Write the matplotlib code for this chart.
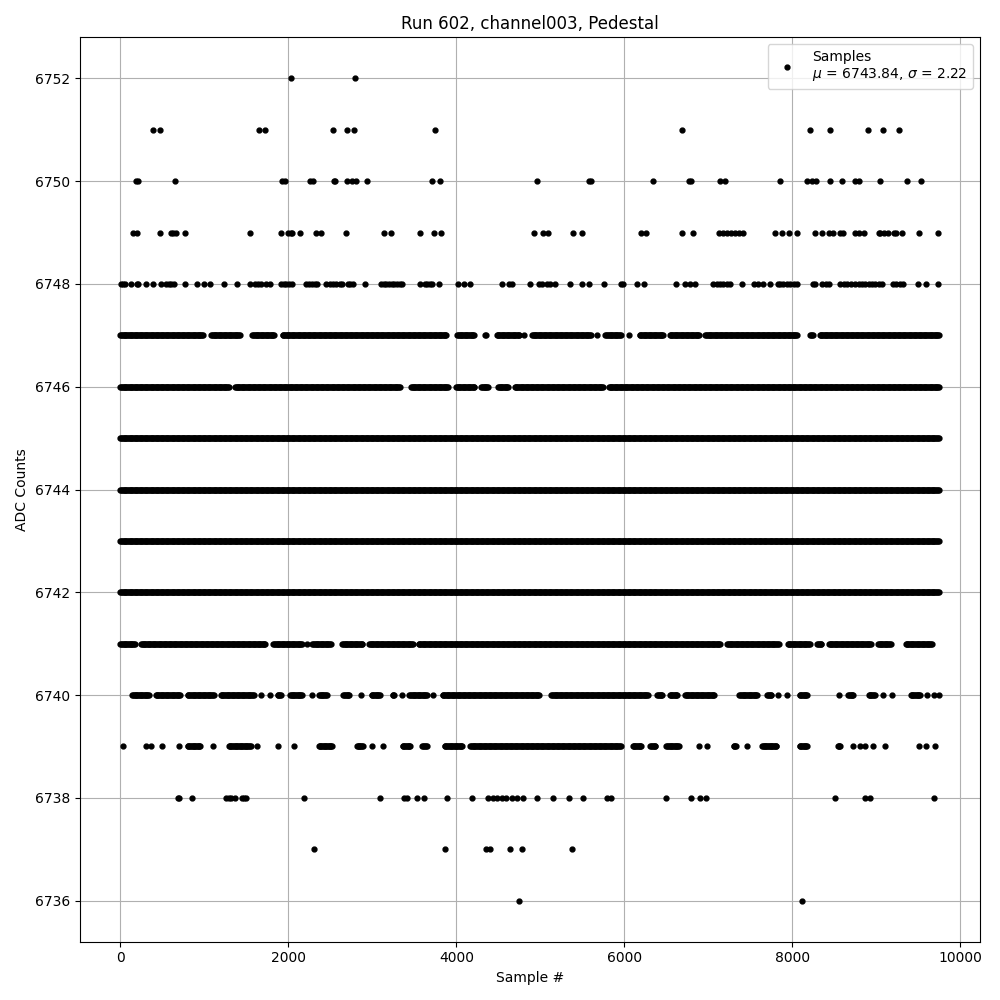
import matplotlib
matplotlib.use("Agg")
import matplotlib.pyplot as plt
import numpy as np

# ADC levels and where the samples sit on each one.
# runs = (first, last) sample index of a continuous stretch, dots = single samples
levels = [6736, 6737, 6738, 6739, 6740, 6741, 6742, 6743, 6744, 6745, 6746,
          6747, 6748, 6749, 6750, 6751, 6752]

dots_6736 = [4748, 8109]
dots_6737 = [2305, 3866, 4351, 4398, 4641, 4776, 5379]
dots_6738 = [688, 700, 850, 1260, 1290, 1320, 1359, 1450, 1475, 1498, 2185, 3091,
             3373, 3413, 3532, 3616, 3890, 4184, 4378, 4437, 4485, 4537, 4589,
             4665, 4724, 4788, 4962, 5153, 5340, 5510, 5789, 5836, 6496, 6794,
             6901, 6973, 8510, 8868, 8927, 9682]
runs_6739 = [(28, 28), (306, 306), (366, 366), (497, 497), (696, 696), (800, 950),
             (1101, 1101), (1290, 1550), (1625, 1625), (1875, 1875), (2066, 2066),
             (2360, 2520), (2815, 2890), (2996, 2996), (3127, 3127), (3360, 3455),
             (3596, 3651), (3860, 4070), (4165, 5955), (6100, 6200), (6310, 6375),
             (6500, 6650), (6893, 6893), (6981, 6981), (7300, 7330), (7457, 7457),
             (7640, 7815), (8085, 8180), (8540, 8570), (8717, 8717), (8800, 8800),
             (8868, 8868), (8959, 8959), (9098, 9098), (9503, 9503), (9595, 9595),
             (9694, 9694)]
runs_6740 = [(140, 340), (420, 710), (800, 1110), (1195, 1590), (1669, 1669),
             (1780, 1780), (1870, 1910), (2020, 2165), (2277, 2277), (2365, 2455),
             (2655, 2730), (2865, 2865), (2990, 3090), (3240, 3265), (3354, 3354),
             (3440, 3650), (3723, 3723), (3835, 4990), (5130, 6280), (6390, 6455),
             (6540, 6635), (6720, 7075), (7370, 7580), (7700, 7750), (7823, 7823),
             (7942, 7942), (8085, 8180), (8558, 8558), (8665, 8730), (8910, 8985),
             (9074, 9074), (9182, 9182), (9410, 9520), (9603, 9603), (9682, 9682),
             (9745, 9745)]
runs_6741 = [(0, 170), (245, 1730), (1820, 2165), (2221, 2221), (2285, 2505),
             (2640, 2880), (2960, 3480), (3550, 7145), (7225, 7835), (7945, 8205),
             (8295, 8345), (8435, 8940), (9020, 9170), (9350, 9665)]
runs_6742 = [(0, 9749)]
runs_6743 = [(0, 9749)]
runs_6744 = [(0, 9749)]
runs_6745 = [(0, 9749)]
runs_6746 = [(0, 1290), (1365, 3325), (3460, 3905), (3995, 4215), (4295, 4380),
             (4495, 4620), (4695, 5745), (5815, 9749)]
runs_6747 = [(0, 985), (1080, 1425), (1570, 1830), (1930, 3880), (4010, 4215),
             (4340, 4355), (4480, 4750), (4804, 4804), (4900, 5605), (5670, 5670),
             (5775, 5960), (6055, 6055), (6180, 6460), (6540, 6895), (6965, 8060),
             (8215, 8250), (8325, 9745)]
dots_6748 = [10, 28, 60, 127, 195, 211, 306, 393, 485, 544, 576, 604, 632, 767,
             910, 997, 1061, 1232, 1387, 1542, 1601, 1637, 1677, 1736, 1776, 1915,
             1943, 1975, 2006, 2042, 2213, 2245, 2277, 2312, 2340, 2451, 2491, 2531,
             2563, 2610, 2638, 2710, 2737, 2769, 2916, 3107, 3135, 3167, 3198, 3230,
             3262, 3294, 3325, 3357, 3564, 3623, 3655, 3687, 3715, 3794, 4021, 4088,
             4160, 4537, 4629, 4656, 4875, 4986, 5014, 5073, 5113, 5173, 5352, 5499,
             5578, 5761, 5959, 5987, 6154, 6238, 6615, 6722, 6782, 6841, 7060, 7100,
             7139, 7179, 7219, 7259, 7406, 7549, 7596, 7648, 7735, 7823, 7855, 7894,
             7934, 7974, 8014, 8061, 8244, 8272, 8351, 8403, 8435, 8562, 8610, 8649,
             8697, 8749, 8788, 8828, 8868, 8908, 8947, 8987, 9027, 9066, 9198, 9237,
             9277, 9317, 9491, 9595, 9738]
dots_6749 = [155, 194, 469, 596, 623, 656, 767, 1541, 1911, 1999, 2030, 2046, 2137,
             2324, 2392, 2685, 3138, 3226, 3567, 3734, 3817, 4926, 5026, 5093, 5391,
             5498, 6201, 6261, 6686, 6821, 7131, 7171, 7219, 7267, 7314, 7362, 7417,
             7795, 7875, 7954, 8054, 8268, 8352, 8435, 8483, 8570, 8602, 8749, 8797,
             8856, 9027, 9047, 9087, 9134, 9214, 9238, 9309, 9504, 9731]
dots_6750 = [187, 211, 647, 1927, 1958, 2253, 2292, 2547, 2555, 2698, 2758, 2805,
             2932, 3711, 3806, 4962, 5578, 5602, 6344, 6770, 6790, 7143, 7203, 7858,
             8176, 8232, 8284, 8454, 8585, 8749, 8788, 9038, 9360, 9527]
dots_6751 = [385, 469, 1649, 1725, 2531, 2698, 2781, 3747, 6691, 8205, 8443, 8896,
             9075, 9265]
dots_6752 = [2030, 2793]

mu = 6743.84
sigma = 2.22

rows = {6736: dots_6736, 6737: dots_6737, 6738: dots_6738, 6748: dots_6748,
        6749: dots_6749, 6750: dots_6750, 6751: dots_6751, 6752: dots_6752}
runs = {6739: runs_6739, 6740: runs_6740, 6741: runs_6741, 6742: runs_6742,
        6743: runs_6743, 6744: runs_6744, 6745: runs_6745, 6746: runs_6746,
        6747: runs_6747}

xs = []
ys = []
for lv in levels:
    if lv in rows:
        pts = np.array(rows[lv], dtype=float)
    else:
        pts = np.concatenate([np.arange(a, b + 1, 10) if b > a else np.array([a])
                              for a, b in runs[lv]]).astype(float)
    xs.append(pts)
    ys.append(np.full(len(pts), lv))
xs = np.concatenate(xs)
ys = np.concatenate(ys)

fig, ax = plt.subplots(figsize=(10, 10), dpi=100)
ax.plot(xs, ys, '.', color='black', markersize=7,
        label='Samples\n$\\mu$ = %.2f, $\\sigma$ = %.2f' % (mu, sigma))
ax.set_title('Run 602, channel003, Pedestal')
ax.set_xlabel('Sample #')
ax.set_ylabel('ADC Counts')
ax.yaxis.get_major_formatter().set_useOffset(False)
ax.grid(True)
ax.legend(loc='upper right')
plt.tight_layout()
plt.savefig('out.png')
